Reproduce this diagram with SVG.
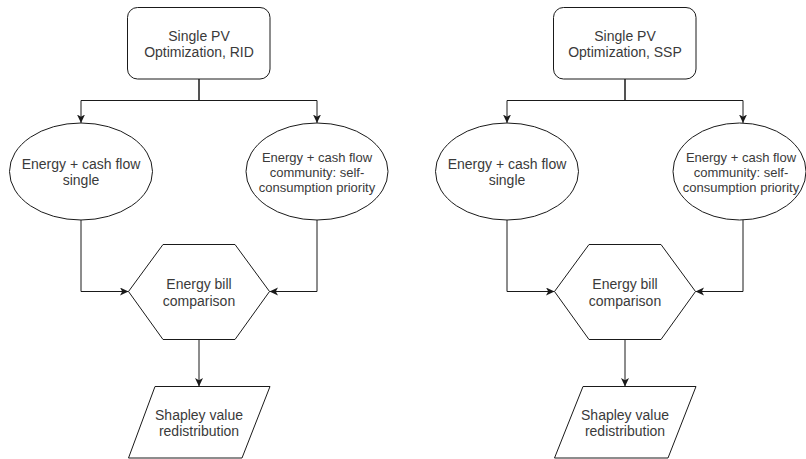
<svg xmlns="http://www.w3.org/2000/svg" width="806" height="459" viewBox="0 0 806 459">
  <style>
    .shape { fill: #ffffff; stroke: #1a1a1a; stroke-width: 1; }
    .edge { fill: none; stroke: #1a1a1a; stroke-width: 1; }
    .label { font-family: "Liberation Sans", Arial, sans-serif; font-size: 14px; fill: #3a3a3a; text-anchor: middle; }
    .small { font-size: 13px; }
  </style>
  <defs>
    <marker id="arrow" markerUnits="userSpaceOnUse" markerWidth="10" markerHeight="9" refX="8.5" refY="4" orient="auto">
      <path d="M0,0 L8.5,4 L0,8 L2.2,4 Z" fill="#1a1a1a"/>
    </marker>
  </defs>
  <rect width="806" height="459" fill="#ffffff"/>

  <!-- connectors -->
  <g id="connectors">
    <!-- RID branch -->
    <path class="edge" d="M199,79 V100.5 H81 V123" marker-end="url(#arrow)"/>
    <path class="edge" d="M199,79 V100.5 H317 V123" marker-end="url(#arrow)"/>
    <path class="edge" d="M81,220 V291.5 H128.5" marker-end="url(#arrow)"/>
    <path class="edge" d="M317,220 V291.5 H269.5" marker-end="url(#arrow)"/>
    <path class="edge" d="M199,339.5 V386.5" marker-end="url(#arrow)"/>
    <!-- SSP branch -->
    <path class="edge" d="M625,79 V100.5 H507 V123" marker-end="url(#arrow)"/>
    <path class="edge" d="M625,79 V100.5 H743 V123" marker-end="url(#arrow)"/>
    <path class="edge" d="M507,220 V291.5 H554.5" marker-end="url(#arrow)"/>
    <path class="edge" d="M743,220 V291.5 H695.5" marker-end="url(#arrow)"/>
    <path class="edge" d="M625,339.5 V386.5" marker-end="url(#arrow)"/>
  </g>

  <!-- RID flow -->
  <g id="opt-rid">
    <rect class="shape" x="127.5" y="7.5" width="142.5" height="71.5" rx="10" ry="10"/>
    <text class="label" x="199" y="40.5">Single PV</text>
    <text class="label" x="199" y="57">Optimization, RID</text>
  </g>
  <g id="single-rid">
    <ellipse class="shape" cx="81" cy="171.5" rx="71.5" ry="48.5"/>
    <text class="label" x="81" y="169">Energy + cash flow</text>
    <text class="label" x="81" y="185">single</text>
  </g>
  <g id="community-rid">
    <ellipse class="shape" cx="317" cy="171.5" rx="71" ry="48.5"/>
    <text class="label small" x="317" y="161.5">Energy + cash flow</text>
    <text class="label small" x="317" y="176.5">community: self-</text>
    <text class="label small" x="317" y="191.5">consumption priority</text>
  </g>
  <g id="bill-rid">
    <polygon class="shape" points="163,244.5 235,244.5 269.5,291.5 235,339.5 163,339.5 128.5,291.5"/>
    <text class="label" x="199" y="289">Energy bill</text>
    <text class="label" x="199" y="305.5">comparison</text>
  </g>
  <g id="shapley-rid">
    <polygon class="shape" points="155,386.5 270,386.5 242,458 128.5,458"/>
    <text class="label" x="199" y="419.5">Shapley value</text>
    <text class="label" x="199" y="435.5">redistribution</text>
  </g>

  <!-- SSP flow -->
  <g id="opt-ssp">
    <rect class="shape" x="553.5" y="7.5" width="142.5" height="71.5" rx="10" ry="10"/>
    <text class="label" x="625" y="40.5">Single PV</text>
    <text class="label" x="625" y="57">Optimization, SSP</text>
  </g>
  <g id="single-ssp">
    <ellipse class="shape" cx="507" cy="171.5" rx="71.5" ry="48.5"/>
    <text class="label" x="507" y="169">Energy + cash flow</text>
    <text class="label" x="507" y="185">single</text>
  </g>
  <g id="community-ssp">
    <ellipse class="shape" cx="739.5" cy="171.5" rx="66.5" ry="48.5"/>
    <text class="label small" x="741" y="161.5">Energy + cash flow</text>
    <text class="label small" x="741" y="176.5">community: self-</text>
    <text class="label small" x="741" y="191.5">consumption priority</text>
  </g>
  <g id="bill-ssp">
    <polygon class="shape" points="589,244.5 661,244.5 695.5,291.5 661,339.5 589,339.5 554.5,291.5"/>
    <text class="label" x="625" y="289">Energy bill</text>
    <text class="label" x="625" y="305.5">comparison</text>
  </g>
  <g id="shapley-ssp">
    <polygon class="shape" points="583,386.5 696,386.5 668,458 554.5,458"/>
    <text class="label" x="625" y="419.5">Shapley value</text>
    <text class="label" x="625" y="435.5">redistribution</text>
  </g>
</svg>
